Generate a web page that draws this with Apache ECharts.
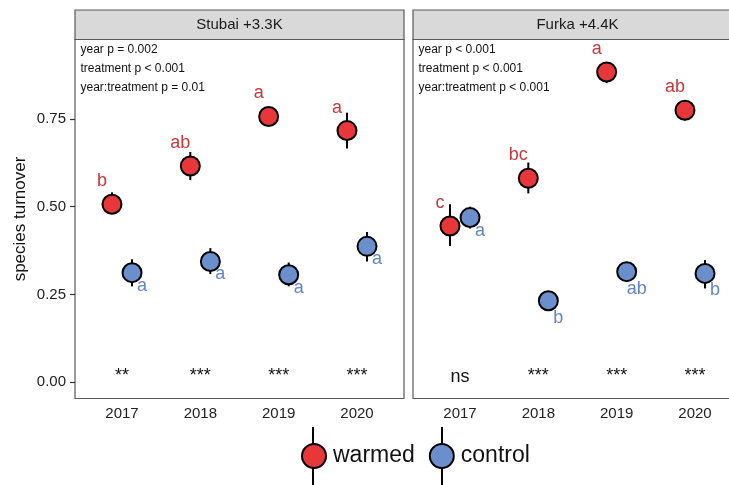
<!DOCTYPE html>
<html>
<head>
<meta charset="utf-8">
<script src="https://cdn.jsdelivr.net/npm/echarts@6/dist/echarts.min.js"></script>
<style>
html,body{margin:0;padding:0;background:#fff;}
#chart{width:729px;height:485px;}
</style>
</head>
<body>
<div id="chart"></div>
<script>
// ---- data ----
const years = ['2017', '2018', '2019', '2020'];
const sites = ['Stubai +3.3K', 'Furka +4.4K'];
const treatments = ['warmed', 'control'];

const stubaiWarmedMean = [0.507, 0.616, 0.757, 0.717];
const stubaiWarmedLo   = [0.479, 0.576, 0.733, 0.666];
const stubaiWarmedHi   = [0.541, 0.656, 0.781, 0.768];
const stubaiControlMean = [0.312, 0.344, 0.306, 0.387];
const stubaiControlLo   = [0.273, 0.308, 0.273, 0.344];
const stubaiControlHi   = [0.350, 0.382, 0.341, 0.428];

const furkaWarmedMean = [0.445, 0.581, 0.884, 0.775];
const furkaWarmedLo   = [0.388, 0.538, 0.852, 0.746];
const furkaWarmedHi   = [0.507, 0.626, 0.912, 0.800];
const furkaControlMean = [0.469, 0.232, 0.315, 0.310];
const furkaControlLo   = [0.438, 0.203, 0.289, 0.267];
const furkaControlHi   = [0.500, 0.260, 0.341, 0.348];

const stubaiWarmedLetters  = ['b', 'ab', 'a', 'a'];
const stubaiControlLetters = ['a', 'a', 'a', 'a'];
const furkaWarmedLetters   = ['c', 'bc', 'a', 'ab'];
const furkaControlLetters  = ['a', 'b', 'ab', 'b'];

const stubaiSignif = ['**', '***', '***', '***'];
const furkaSignif  = ['ns', '***', '***', '***'];

const stubaiStats = ['year p = 0.002', 'treatment p < 0.001', 'year:treatment p = 0.01'];
const furkaStats  = ['year p < 0.001', 'treatment p < 0.001', 'year:treatment p < 0.001'];

const yTicks = [0, 0.25, 0.5, 0.75];
const yAxisTitle = 'species turnover';

// ---- styling ----
const FONT = '"Liberation Sans", Arial, Helvetica, sans-serif';
const RED = '#e8373a', BLUE = '#6b8fcd';
const RED_TXT = '#c33a3e', BLUE_TXT = '#6286c4';
const DODGE = 0.128;
const YMIN = -0.0465, YMAX = 0.9765;

const panels = [
  {site: sites[0], left: 75,
   warmed: {mean: stubaiWarmedMean, lo: stubaiWarmedLo, hi: stubaiWarmedHi, letters: stubaiWarmedLetters},
   control: {mean: stubaiControlMean, lo: stubaiControlLo, hi: stubaiControlHi, letters: stubaiControlLetters},
   signif: stubaiSignif, stats: stubaiStats},
  {site: sites[1], left: 413,
   warmed: {mean: furkaWarmedMean, lo: furkaWarmedLo, hi: furkaWarmedHi, letters: furkaWarmedLetters},
   control: {mean: furkaControlMean, lo: furkaControlLo, hi: furkaControlHi, letters: furkaControlLetters},
   signif: furkaSignif, stats: furkaStats}
];

const PW = 329, PTOP = 39.5, PH = 359;

const grids = [], xAxes = [], yAxes = [], series = [], graphics = [];

panels.forEach((p, k) => {
  grids.push({left: p.left, top: PTOP, width: PW, height: PH, show: true,
    outerBoundsMode: 'none', containLabel: false,
    borderColor: '#595959', borderWidth: 1.2, backgroundColor: 'transparent'});
  xAxes.push({type: 'value', gridIndex: k, min: 0.4, max: 4.6,
    axisLine: {show: false}, axisTick: {show: false}, splitLine: {show: false},
    axisLabel: {customValues: [1, 2, 3, 4], formatter: v => years[Math.round(v) - 1],
      fontFamily: FONT, fontSize: 15, color: '#222', margin: 8}});
  yAxes.push({type: 'value', gridIndex: k, min: YMIN, max: YMAX,
    name: k === 0 ? yAxisTitle : '', nameLocation: 'middle', nameGap: 46,
    nameTextStyle: {fontFamily: FONT, fontSize: 17, color: '#111'},
    axisLine: {show: false}, splitLine: {show: false},
    axisTick: {show: k === 0, customValues: yTicks, length: 5, lineStyle: {color: '#333', width: 1.2}},
    axisLabel: {show: k === 0, customValues: yTicks, formatter: v => v.toFixed(2),
      fontFamily: FONT, fontSize: 15, color: '#222', margin: 9}});

  treatments.forEach((t, ti) => {
    const d = p[t];
    const off = ti === 0 ? -DODGE : DODGE;
    // error bars
    series.push({type: 'custom', name: t + ' error', xAxisIndex: k, yAxisIndex: k, z: 2, silent: true,
      data: d.mean.map((m, i) => [i + 1 + off, d.lo[i], d.hi[i]]),
      renderItem: (params, api) => {
        const a = api.coord([api.value(0), api.value(1)]);
        const b = api.coord([api.value(0), api.value(2)]);
        return {type: 'line', shape: {x1: a[0], y1: a[1], x2: b[0], y2: b[1]},
          style: {stroke: '#000', lineWidth: 2}};
      }});
    // points + letters
    series.push({type: 'scatter', name: t, xAxisIndex: k, yAxisIndex: k, z: 3,
      symbol: 'circle', symbolSize: 19,
      itemStyle: {color: ti === 0 ? RED : BLUE, borderColor: '#000', borderWidth: 2, opacity: 1},
      data: d.mean.map((m, i) => {
        const s = d.letters[i];
        const asc = /[bdfhklt]/.test(s);
        const offset = ti === 0 ? [-10, -23] : [10, asc ? 17 : 13];
        return {value: [i + 1 + off, m],
          label: {show: true, formatter: s, position: 'inside', offset: offset,
            align: 'center', verticalAlign: 'middle',
            fontFamily: FONT, fontSize: 18, color: ti === 0 ? RED_TXT : BLUE_TXT}};
      })});
  });

  // significance labels
  series.push({type: 'custom', name: 'signif', xAxisIndex: k, yAxisIndex: k, z: 4, silent: true,
    data: p.signif.map((s, i) => [i + 1, 0]),
    renderItem: (params, api) => {
      const c = api.coord([api.value(0), api.value(1)]);
      const txt = p.signif[params.dataIndex];
      return {type: 'text', x: c[0], y: c[1] - (txt === 'ns' ? 5 : 6),
        style: {text: txt, textAlign: 'center', textVerticalAlign: 'middle',
          fontFamily: FONT, fontSize: 18, fill: '#111'}};
    }});

  // strip
  graphics.push({type: 'rect', shape: {x: p.left, y: 10, width: PW, height: PTOP - 10},
    style: {fill: '#d9d9d9', stroke: '#595959', lineWidth: 1.2}, z: 1});
  graphics.push({type: 'text', x: p.left + PW / 2, y: (10 + PTOP) / 2 + 0.5,
    style: {text: p.site, textAlign: 'center', textVerticalAlign: 'middle',
      fontFamily: FONT, fontSize: 15, fill: '#1a1a1a'}, z: 2});
  // stats text
  p.stats.forEach((s, j) => {
    graphics.push({type: 'text', x: p.left + 5.5, y: 50 + j * 18.8,
      style: {text: s, textAlign: 'left', textVerticalAlign: 'middle',
        fontFamily: FONT, fontSize: 12, fill: '#111'}, z: 2});
  });
});

// legend vertical lines (behind legend icons)
[313, 442].forEach(x => {
  graphics.push({type: 'line', shape: {x1: x, y1: 427, x2: x, y2: 486},
    style: {stroke: '#000', lineWidth: 2}, z: -1});
});

const chart = echarts.init(document.getElementById('chart'), null, {renderer: 'canvas'});
chart.setOption({
  animation: false,
  backgroundColor: '#fff',
  grid: grids,
  xAxis: xAxes,
  yAxis: yAxes,
  legend: {data: treatments, left: 301, top: 443, orient: 'horizontal', padding: 0,
    icon: 'circle', itemWidth: 24, itemHeight: 24, itemGap: 14, z: 10,
    itemStyle: {borderColor: '#000', borderWidth: 2},
    textStyle: {fontFamily: FONT, fontSize: 23, color: '#111', padding: [0, 0, 0, 2]},
    selectedMode: false},
  graphic: graphics,
  series: series
});
</script>
</body>
</html>
